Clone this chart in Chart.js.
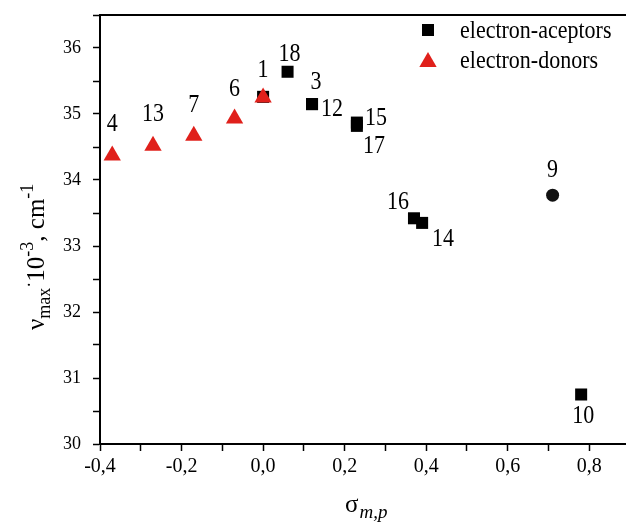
<!DOCTYPE html>
<html>
<head>
<meta charset="utf-8">
<script src="https://cdn.jsdelivr.net/npm/chart.js@4/dist/chart.umd.min.js"></script>
<style>
  body { margin: 0; background: #fff; }
  #wrap { width: 626px; height: 522px; }
</style>
</head>
<body>
<div id="wrap"><canvas id="chart" width="626" height="522"></canvas></div>
<script>
// sigma (m,p) and nu max * 10^-3, cm^-1
const donorX = [-0.37, -0.27, -0.17, -0.07, 0.0];
const donorY = [34.37, 34.52, 34.67, 34.93, 35.25];
const donorLabels = ['4', '13', '7', '6', '1'];

const acceptorX = [0.0, 0.06, 0.12, 0.12, 0.23, 0.23, 0.37, 0.39, 0.78];
const acceptorY = [35.26, 35.64, 35.15, 35.15, 34.87, 34.82, 33.42, 33.35, 30.75];
const acceptorLabels = ['', '18', '3', '12', '15', '17', '16', '14', '10'];

const otherX = [0.71];
const otherY = [33.77];
const otherLabels = ['9'];

const xTicks = [-0.4, -0.2, 0.0, 0.2, 0.4, 0.6, 0.8];
const yTicks = [30, 31, 32, 33, 34, 35, 36];

const serif = '"Liberation Serif", "Times New Roman", serif';

// where each number sits next to its marker (px)
const labelOffset = {
  '4': [0, -31], '13': [0, -31], '7': [0, -30], '6': [0, -29], '1': [0, -27],
  '18': [2, -17], '3': [4, -22], '12': [20, 5], '15': [19, -4], '17': [17, 20],
  '16': [-16, -16], '14': [21, 16], '9': [0, -25], '10': [2, 22]
};

function toPoints(xs, ys) {
  return xs.map((x, i) => ({x: x, y: ys[i]}));
}

function fmt(v) {
  let s = Math.abs(v) < 1e-9 ? '0.0' : v.toFixed(1);
  return s.replace('.', ',');
}

function onStep(v, step) {
  return Math.abs(v / step - Math.round(v / step)) < 1e-6;
}

// scaled text: the original lettering is a bit taller than wide
function drawText(ctx, text, x, y, size, opts) {
  opts = opts || {};
  ctx.save();
  ctx.translate(x, y);
  ctx.scale(1, opts.sy || 1.15);
  ctx.font = (opts.italic ? 'italic ' : '') + size + 'px ' + serif;
  ctx.fillStyle = '#000';
  ctx.textAlign = opts.align || 'center';
  ctx.textBaseline = opts.baseline || 'middle';
  ctx.fillText(text, 0, 0);
  let w = ctx.measureText(text).width;
  ctx.restore();
  return w;
}

const decorations = {
  id: 'decorations',
  afterDraw(chart) {
    const ctx = chart.ctx;
    const area = chart.chartArea;

    // top frame line
    ctx.save();
    ctx.strokeStyle = '#000';
    ctx.lineWidth = 2;
    ctx.beginPath();
    ctx.moveTo(area.left, area.top);
    ctx.lineTo(chart.width, area.top);
    ctx.stroke();
    ctx.restore();

    // point numbers
    chart.data.datasets.forEach((ds, di) => {
      const meta = chart.getDatasetMeta(di);
      meta.data.forEach((el, i) => {
        const lab = ds.pointLabels[i];
        if (!lab) return;
        const off = labelOffset[lab] || [0, -20];
        drawText(ctx, lab, el.x + off[0], el.y + off[1], 22);
      });
    });

    // legend
    const legendItems = chart.data.datasets.filter(ds => ds.inLegend);
    legendItems.forEach((ds, i) => {
      const y = 30 + i * 30;
      ctx.save();
      ctx.fillStyle = ds.backgroundColor;
      ctx.strokeStyle = ds.backgroundColor;
      Chart.helpers.drawPoint(ctx, {
        pointStyle: ds.pointStyle,
        radius: ds.pointRadius,
        borderWidth: 0
      }, 428, y + (ds.pointStyle === 'triangle' ? 2 : 0));
      ctx.restore();
      drawText(ctx, ds.label, 460, y + 1, 22, {align: 'left'});
    });

    // y title: nu_max * 10^-3, cm^-1
    ctx.save();
    ctx.translate(44, 330);
    ctx.rotate(-Math.PI / 2);
    let x = 0;
    x += drawText(ctx, 'ν', x, 0, 25, {align: 'left', baseline: 'alphabetic', sy: 1});
    x += drawText(ctx, 'max', x, 6, 18, {align: 'left', baseline: 'alphabetic', sy: 1});
    x += drawText(ctx, '·', x, -9, 18, {align: 'left', baseline: 'alphabetic', sy: 1});
    x += drawText(ctx, '10', x, 0, 25, {align: 'left', baseline: 'alphabetic', sy: 1});
    x += drawText(ctx, '-3', x, -11, 18, {align: 'left', baseline: 'alphabetic', sy: 1});
    x += drawText(ctx, ', cm', x, 0, 25, {align: 'left', baseline: 'alphabetic', sy: 1});
    drawText(ctx, '-1', x, -11, 18, {align: 'left', baseline: 'alphabetic', sy: 1});
    ctx.restore();

    // x title: sigma_m,p
    let sx = 345;
    sx += drawText(ctx, 'σ', sx, 512, 25, {align: 'left', baseline: 'alphabetic', sy: 1});
    drawText(ctx, 'm,p', sx + 1, 518, 19, {align: 'left', baseline: 'alphabetic', italic: true, sy: 1});
  }
};

const config = {
  type: 'scatter',
  data: {
    datasets: [{
      label: 'electron-aceptors',
      data: toPoints(acceptorX, acceptorY),
      pointLabels: acceptorLabels,
      inLegend: true,
      pointStyle: 'rect',
      pointRadius: 8.5,
      pointHoverRadius: 8.5,
      backgroundColor: '#000',
      borderWidth: 0,
      order: 2
    }, {
      label: 'electron-donors',
      data: toPoints(donorX, donorY),
      pointLabels: donorLabels,
      inLegend: true,
      pointStyle: 'triangle',
      pointRadius: 10,
      pointHoverRadius: 10,
      backgroundColor: '#e0201b',
      borderWidth: 0,
      order: 1
    }, {
      label: 'other',
      data: toPoints(otherX, otherY),
      pointLabels: otherLabels,
      inLegend: false,
      pointStyle: 'circle',
      pointRadius: 6.5,
      pointHoverRadius: 6.5,
      backgroundColor: '#111',
      borderWidth: 0,
      order: 3
    }]
  },
  options: {
    responsive: false,
    animation: false,
    clip: false,
    layout: {autoPadding: false, padding: {top: 15, right: 0, left: 0, bottom: 0}},
    plugins: {
      legend: {display: false},
      tooltip: {enabled: false}
    },
    scales: {
      x: {
        type: 'linear',
        min: -0.4,
        max: 0.89,
        afterBuildTicks: (scale) => {
          scale.ticks = scale.ticks.filter(t => onStep(t.value, 0.1));
        },
        afterFit: (scale) => {
          scale.height = 78;
          scale.paddingLeft = 0;
          scale.paddingRight = 0;
        },
        ticks: {
          stepSize: 0.1,
          includeBounds: false,
          autoSkip: false,
          maxRotation: 0,
          padding: 4,
          color: '#000',
          font: {family: serif, size: 20},
          callback: (v) => xTicks.some(t => Math.abs(t - v) < 1e-6) ? fmt(v) : ''
        },
        grid: {drawOnChartArea: false, tickLength: 7, tickColor: '#000', tickWidth: 1.5},
        border: {color: '#000', width: 2}
      },
      y: {
        type: 'linear',
        min: 30,
        max: 36.5,
        afterFit: (scale) => {
          scale.width = 100;
          scale.paddingTop = 0;
          scale.paddingBottom = 0;
        },
        ticks: {
          stepSize: 0.5,
          autoSkip: false,
          padding: 12,
          color: '#000',
          font: {family: serif, size: 18},
          callback: (v) => yTicks.includes(v) ? String(v) : ''
        },
        grid: {drawOnChartArea: false, tickLength: 7, tickColor: '#000', tickWidth: 1.5},
        border: {color: '#000', width: 2}
      }
    }
  },
  plugins: [decorations]
};

new Chart(document.getElementById('chart'), config);
</script>
</body>
</html>
